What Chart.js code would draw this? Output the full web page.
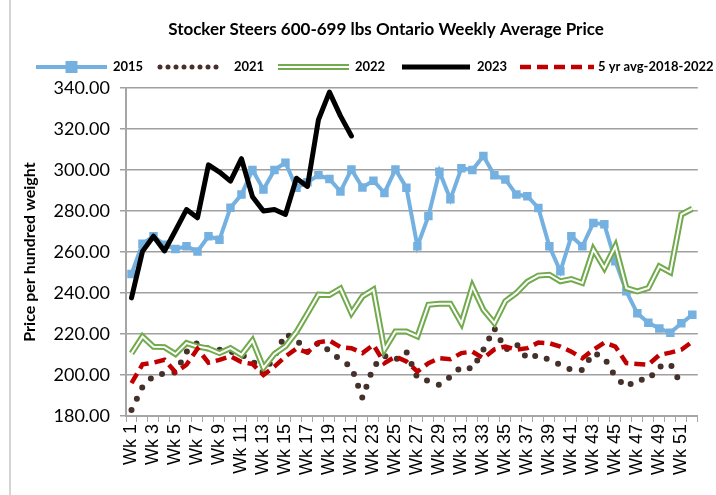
<!DOCTYPE html>
<html><head><meta charset="utf-8">
<script src="https://cdn.jsdelivr.net/npm/chart.js@4/dist/chart.umd.min.js"></script>
<style>html,body{margin:0;padding:0;background:#fff;}#wrap{position:relative;width:716px;height:495px;}</style>
</head><body><div id="wrap"><canvas id="c" width="716" height="495"></canvas></div>
<script>
const weeks = ['Wk 1','Wk 2','Wk 3','Wk 4','Wk 5','Wk 6','Wk 7','Wk 8','Wk 9','Wk 10','Wk 11','Wk 12','Wk 13','Wk 14','Wk 15','Wk 16','Wk 17','Wk 18','Wk 19','Wk 20','Wk 21','Wk 22','Wk 23','Wk 24','Wk 25','Wk 26','Wk 27','Wk 28','Wk 29','Wk 30','Wk 31','Wk 32','Wk 33','Wk 34','Wk 35','Wk 36','Wk 37','Wk 38','Wk 39','Wk 40','Wk 41','Wk 42','Wk 43','Wk 44','Wk 45','Wk 46','Wk 47','Wk 48','Wk 49','Wk 50','Wk 51','Wk 52'];
const y2015 = [249.3,264,267.7,263.5,261.5,262.8,260.3,267.7,266,281.6,288,300,290.5,300,303.6,291.3,294,297.5,295.6,289.5,300.3,291.5,294.8,288.8,300.3,291.3,262.8,277.5,299.2,285.7,300.9,300,306.8,297.4,295.4,288,287.2,281.5,262.8,250.6,267.7,262.8,274.2,273.5,255.5,240.8,230.1,225.5,222.7,220.6,225.2,229.4];
const y2021 = [182.9,194.2,199.6,200.8,201.2,211.3,215.7,212.8,212.3,211.5,209.8,207,201,208.9,220,217.2,211.3,215.7,211.8,207.4,204,188.8,204,209.3,207.4,211.3,198.6,197.1,195.2,199.1,204,203,212.3,222.8,212.3,215.2,207.9,209.8,207.4,204.9,202.5,202.5,210.8,208.4,199.1,194.2,197.8,197.6,204,205.4,195.2,null];
const y2022 = [210.5,218.8,213.8,213.6,210.2,215.6,213.9,212.9,210.7,213.1,209.8,216.8,203.5,210.3,214,221,230,239.2,239,242.2,230.2,238.3,241.6,212.3,221.2,221.2,218.8,234.3,234.8,234.8,225.3,243.2,231.8,225.3,236,240,245.5,248.5,248.9,245.7,246.8,244.9,261.2,252.2,262.8,242.4,240.8,242.4,253,250.1,278.3,281.1];
const y2023 = [237.6,260.3,267.7,260.5,270.5,280.7,276.7,302.5,299,294.6,305.5,287,280,280.7,278.3,296,292,324.5,338,326.4,316.6];
const avg5 = [196,205.2,206,207.4,201.3,205,212.8,206,207.4,209.1,206.3,205.4,200,204.1,209,212.9,211,215.9,216.8,213.6,213.1,210.7,214.7,205.8,209,206.6,201.7,205.8,208.2,207.7,210.7,211.4,208.2,212.5,213.9,212.3,213.1,215.8,215.5,213.9,211.4,208.2,212.3,215.8,213.9,205.8,205.4,205,209.8,210.9,212.3,216.3];
const yTicks = [180,200,220,240,260,280,300,320,340];
const titleText = 'Stocker Steers 600-699 lbs Ontario Weekly Average Price';
const yTitle = 'Price per hundred weight';
const seriesNames = ['2015','2021','2022','2023','5 yr avg-2018-2022'];

const C_BLUE='#74b1e1', C_BROWN='#45302a', C_GREEN='#72aa4e', C_BLACK='#000000', C_RED='#c00000';

const decor = {
  id:'decor',
  afterDraw(chart){
    const ctx = chart.ctx;
    ctx.save();
    ctx.strokeStyle='#d4d4d4'; ctx.lineWidth=2;
    ctx.beginPath(); ctx.moveTo(10,0); ctx.lineTo(10,495); ctx.stroke();
    ctx.fillStyle='#000'; ctx.font='bold 17px Lato'; ctx.textAlign='center'; ctx.textBaseline='middle';
    ctx.fillText(titleText, 386, 30);
    const ly = 67;
    const seg = (x0,x1,color,w,dash,cap)=>{
      ctx.save(); ctx.strokeStyle=color; ctx.lineWidth=w; ctx.setLineDash(dash||[]); ctx.lineCap=cap||'butt';
      ctx.beginPath(); ctx.moveTo(x0,ly); ctx.lineTo(x1,ly); ctx.stroke(); ctx.restore();
    };
    seg(36,107,C_BLUE,4);
    ctx.fillStyle=C_BLUE; ctx.fillRect(71.5-6,ly-6,12,12);
    seg(160,224,C_BROWN,5,[0,8],'round');
    seg(278,349,C_GREEN,6); seg(278,349,'#fff',2);
    seg(402,470,C_BLACK,5);
    seg(520,594,C_RED,4.5,[11,6]);
    ctx.fillStyle='#000'; ctx.font='bold 13px Lato'; ctx.textAlign='left'; ctx.textBaseline='middle';
    const tx=[113,234,355,477,598];
    seriesNames.forEach((n,i)=>ctx.fillText(n,tx[i],ly));
    ctx.restore();
  }
};

new Chart(document.getElementById('c'), {
  type:'line',
  data:{labels:weeks, datasets:[
    {label:seriesNames[4], data:avg5, borderColor:C_RED, borderWidth:4.5, borderDash:[11,6], pointRadius:0, order:0},
    {label:seriesNames[3], data:y2023, borderColor:C_BLACK, borderWidth:5, pointRadius:0, order:1, borderJoinStyle:'round', borderCapStyle:'round'},
    {label:seriesNames[2]+' inner', data:y2022, borderColor:'#ffffff', borderWidth:2, pointRadius:0, order:2},
    {label:seriesNames[2], data:y2022, borderColor:C_GREEN, borderWidth:6, pointRadius:0, order:3},
    {label:seriesNames[1], data:y2021, borderColor:C_BROWN, borderWidth:6, borderDash:[0,12.5], borderCapStyle:'round', pointRadius:0, order:4},
    {label:seriesNames[0], data:y2015, borderColor:C_BLUE, backgroundColor:C_BLUE, borderWidth:4, pointStyle:'rect', pointRadius:6, pointBackgroundColor:C_BLUE, pointBorderWidth:0, order:5}
  ]},
  options:{
    responsive:false, animation:false, events:[],
    layout:{padding:{top:88,right:8,left:0,bottom:0}},
    plugins:{legend:{display:false}, title:{display:false}, tooltip:{enabled:false}},
    scales:{
      x:{offset:true,
        grid:{offset:true, drawOnChartArea:false, tickLength:6, color:'#a6a6a6', lineWidth:1},
        border:{color:'#a6a6a6', width:2},
        ticks:{autoSkip:false, minRotation:90, maxRotation:90, padding:2, color:'#000',
          font:{family:'Liberation Sans', size:18},
          callback:(v,i)=> i%2===0 ? weeks[i] : ''},
        afterFit:s=>{s.height=79;}
      },
      y:{min:180, max:340,
        afterBuildTicks:s=>{s.ticks = yTicks.map(v=>({value:v}));},
        ticks:{callback:v=>Number(v).toFixed(2), font:{family:'Lato', size:18}, color:'#000', padding:10},
        grid:{color:'#a0a0a0', lineWidth:1.5, tickLength:6},
        border:{color:'#a6a6a6', width:2},
        title:{display:true, text:yTitle, font:{family:'Lato', size:16, weight:'bold'}, color:'#000', padding:{top:20,bottom:0}},
        afterFit:s=>{s.width=126;}
      }
    }
  },
  plugins:[decor]
});
</script></body></html>
